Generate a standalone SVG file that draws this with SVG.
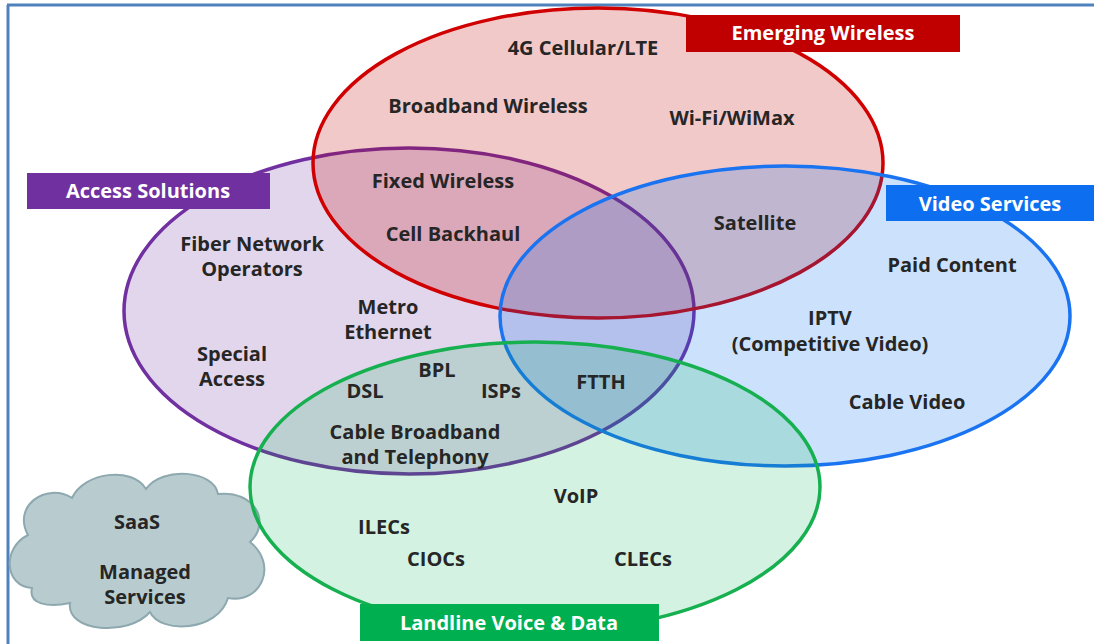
<svg xmlns="http://www.w3.org/2000/svg" width="1094" height="644" viewBox="0 0 1094 644">
  <style>
    .t { font-family: "Open Sans", "Liberation Sans", sans-serif; font-weight: bold; font-size: 20px; fill: #262626; text-anchor: middle; }
    .lbl { font-family: "Open Sans", "Liberation Sans", sans-serif; font-weight: bold; font-size: 20px; fill: #ffffff; text-anchor: middle; }
    .ring { stroke-width: 3.5; }
  </style>
  <rect width="1094" height="644" fill="#ffffff"/>

  <!-- page frame -->
  <g id="frame" stroke="#4F81BD" stroke-width="3" fill="none">
    <line x1="7" y1="5" x2="1094" y2="5"/>
    <line x1="8" y1="5" x2="8" y2="644"/>
  </g>

  <!-- cloud -->
  <g id="cloud-services">
    <path d="M32,588 C4,586 2,548 28,535 C12,506 46,482 72,498 C84,472 132,466 146,489 C162,466 214,470 218,494 C254,490 272,522 250,542 C278,564 262,604 228,598 C218,632 160,634 150,612 C128,637 66,632 70,603 C48,608 28,604 32,588 Z" fill="#B8CCD0" stroke="#8DA9AF" stroke-width="2"/>
    <text class="t" x="137" y="529">SaaS</text>
    <text class="t" x="145" y="579">Managed</text>
    <text class="t" x="145" y="604">Services</text>
  </g>

  <!-- overlapping market circles -->
  <g id="access-solutions">
    <ellipse cx="409" cy="311" rx="285" ry="163" fill="#7030A0" fill-opacity="0.2" stroke="#7030A0" class="ring"/>
  </g>
  <g id="emerging-wireless">
    <ellipse cx="598" cy="163" rx="285" ry="155" fill="#C00000" fill-opacity="0.21" stroke="#D00000" class="ring"/>
  </g>
  <g id="video-services">
    <ellipse cx="785" cy="316" rx="285" ry="150" fill="#0070F0" fill-opacity="0.2" stroke="#1A73F0" class="ring"/>
  </g>
  <g id="landline-voice-data">
    <ellipse cx="535" cy="487" rx="285" ry="145" fill="#00B050" fill-opacity="0.17" stroke="#16B050" class="ring"/>
  </g>

  <!-- category banners -->
  <g id="banner-emerging-wireless">
    <rect x="686" y="15" width="274" height="37" fill="#C00000"/>
    <text class="lbl" x="823" y="40">Emerging Wireless</text>
  </g>
  <g id="banner-access-solutions">
    <rect x="27" y="173" width="243" height="36" fill="#7030A0"/>
    <text class="lbl" x="148" y="198">Access Solutions</text>
  </g>
  <g id="banner-video-services">
    <rect x="886" y="185" width="208" height="36" fill="#0D6EF0"/>
    <text class="lbl" x="990" y="211">Video Services</text>
  </g>
  <g id="banner-landline">
    <rect x="360" y="604" width="299" height="37" fill="#00B050"/>
    <text class="lbl" x="509" y="630">Landline Voice &amp; Data</text>
  </g>

  <!-- item labels -->
  <g id="items">
    <text class="t" x="583" y="55">4G Cellular/LTE</text>
    <text class="t" x="488" y="113">Broadband Wireless</text>
    <text class="t" x="732" y="125">Wi-Fi/WiMax</text>
    <text class="t" x="443" y="188">Fixed Wireless</text>
    <text class="t" x="453" y="241">Cell Backhaul</text>
    <text class="t" x="755" y="230">Satellite</text>
    <text class="t" x="252" y="251">Fiber Network</text>
    <text class="t" x="252" y="276">Operators</text>
    <text class="t" x="952" y="272">Paid Content</text>
    <text class="t" x="388" y="314">Metro</text>
    <text class="t" x="388" y="339">Ethernet</text>
    <text class="t" x="830" y="325">IPTV</text>
    <text class="t" x="830" y="351">(Competitive Video)</text>
    <text class="t" x="232" y="361">Special</text>
    <text class="t" x="232" y="386">Access</text>
    <text class="t" x="437" y="377">BPL</text>
    <text class="t" x="365" y="398">DSL</text>
    <text class="t" x="501" y="398">ISPs</text>
    <text class="t" x="601" y="389">FTTH</text>
    <text class="t" x="907" y="409">Cable Video</text>
    <text class="t" x="415" y="439">Cable Broadband</text>
    <text class="t" x="415" y="464">and Telephony</text>
    <text class="t" x="576" y="503">VoIP</text>
    <text class="t" x="384" y="534">ILECs</text>
    <text class="t" x="436" y="566">CIOCs</text>
    <text class="t" x="643" y="566">CLECs</text>
  </g>
</svg>
